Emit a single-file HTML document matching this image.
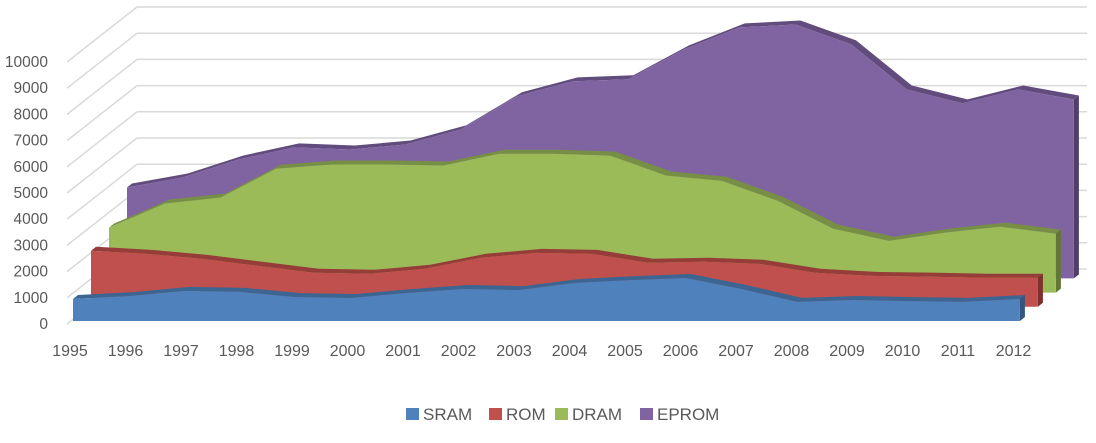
<!DOCTYPE html>
<html><head><meta charset="utf-8"><style>
html,body{margin:0;padding:0;background:#fff;}
svg{display:block;font-family:"Liberation Sans",sans-serif;}
</style></head><body>
<svg id="chart" width="1096" height="443">
<g id="grid"></g>
<g id="series"></g>
<g id="yaxis"></g>
<g id="xaxis"></g>
<g id="legend"></g>
</svg>
<script>
const categories = ["1995","1996","1997","1998","1999","2000","2001","2002","2003","2004","2005","2006","2007","2008","2009","2010","2011","2012"];
const sram = [840,950,1150,1110,910,880,1070,1220,1180,1450,1560,1640,1220,730,800,760,730,840];
const rom = [2140,2020,1830,1560,1300,1260,1450,1870,2060,2020,1680,1720,1640,1300,1180,1150,1110,1110];
const dram = [2480,3400,3630,4730,4890,4890,4850,5300,5300,5230,4470,4270,3510,2440,1980,2290,2520,2250];
const eprom = [3470,3850,4540,5000,4920,5110,5690,6950,7520,7600,8740,9580,9690,8930,7210,6680,7210,6830];
const yTicks = [0,1000,2000,3000,4000,5000,6000,7000,8000,9000,10000];
const seriesNames = ["SRAM","ROM","DRAM","EPROM"];

const NS="http://www.w3.org/2000/svg";
function mk(tag,attrs,parent){const e=document.createElementNS(NS,tag);for(const k in attrs)e.setAttribute(k,attrs[k]);parent.appendChild(e);return e;}
const SCALE=0.0262, STEP=55.7;
const X0=73, BASE0=321, SDX=18, SDY=-14.2, TDX=5, TDY=-4;
function xPos(i,s){return X0+s*SDX+i*STEP;}
function yPos(v,s){return BASE0+s*SDY-v*SCALE;}

const grid=document.getElementById('grid');
yTicks.forEach(t=>{
  const fy=324-t*0.0262;
  const by=fy-55;
  const l1=mk('line',{x1:67,y1:fy,x2:137,y2:by,stroke:'#d9d9d9','stroke-width':1.5},grid);
  
  
  const l2=mk('line',{x1:137,y1:by,x2:1087,y2:by,stroke:'#d9d9d9','stroke-width':1.5},grid);
  
  
});

const colors=[["#4f81bd","#3c6591","#34557d"],["#c0504d","#963c39","#7f302e"],["#9bbb59","#768f44","#627638"],["#8064a2","#624c7d","#513e69"]];
const datas=[sram,rom,dram,eprom];
const sg=document.getElementById('series');
for(let s=3;s>=0;s--){
  const d=datas[s], c=colors[s];
  const g=mk('g',{},sg);
  
  
  const pts=d.map((v,i)=>[xPos(i,s),yPos(v,s)]);
  const base=yPos(0,s);
  const n=pts.length-1;
  let strip=pts.map(p=>p[0]+','+p[1]).join(' ')+' '+pts.slice().reverse().map(p=>(p[0]+TDX)+','+(p[1]+TDY)).join(' ');
  const top=mk('polygon',{points:strip,fill:c[1]},g);
  
  
  const side=mk('polygon',{points:`${pts[n][0]},${pts[n][1]} ${pts[n][0]+TDX},${pts[n][1]+TDY} ${pts[n][0]+TDX},${base+TDY} ${pts[n][0]},${base}`,fill:c[2]},g);
  
  
  const front=mk('polygon',{points:`${pts[0][0]},${base} `+pts.map(p=>p[0]+','+p[1]).join(' ')+` ${pts[n][0]},${base}`,fill:c[0]},g);
  
  
}

const ya=document.getElementById('yaxis');
yTicks.forEach(t=>{
  const e=mk('text',{x:48,y:324-t*0.0262+5,'text-anchor':'end','font-size':15.5,fill:'#595959'},ya);
  e.textContent=t;
  
  
});
const xa=document.getElementById('xaxis');
categories.forEach((c,i)=>{
  const e=mk('text',{x:70+i*55.5,y:356,'text-anchor':'middle','font-size':16,fill:'#595959'},xa);
  e.textContent=c;
  
  
});
const lg=document.getElementById('legend');
const lx=[406,489,555,640];
seriesNames.forEach((nm,i)=>{
  const g=mk('g',{},lg);
  
  
  mk('rect',{x:lx[i],y:408,width:13,height:12,fill:colors[i][0]},g);
  const t=mk('text',{x:lx[i]+17,y:420,'font-size':17,fill:'#595959'},g);
  t.textContent=nm;
});
</script>
</body></html>
